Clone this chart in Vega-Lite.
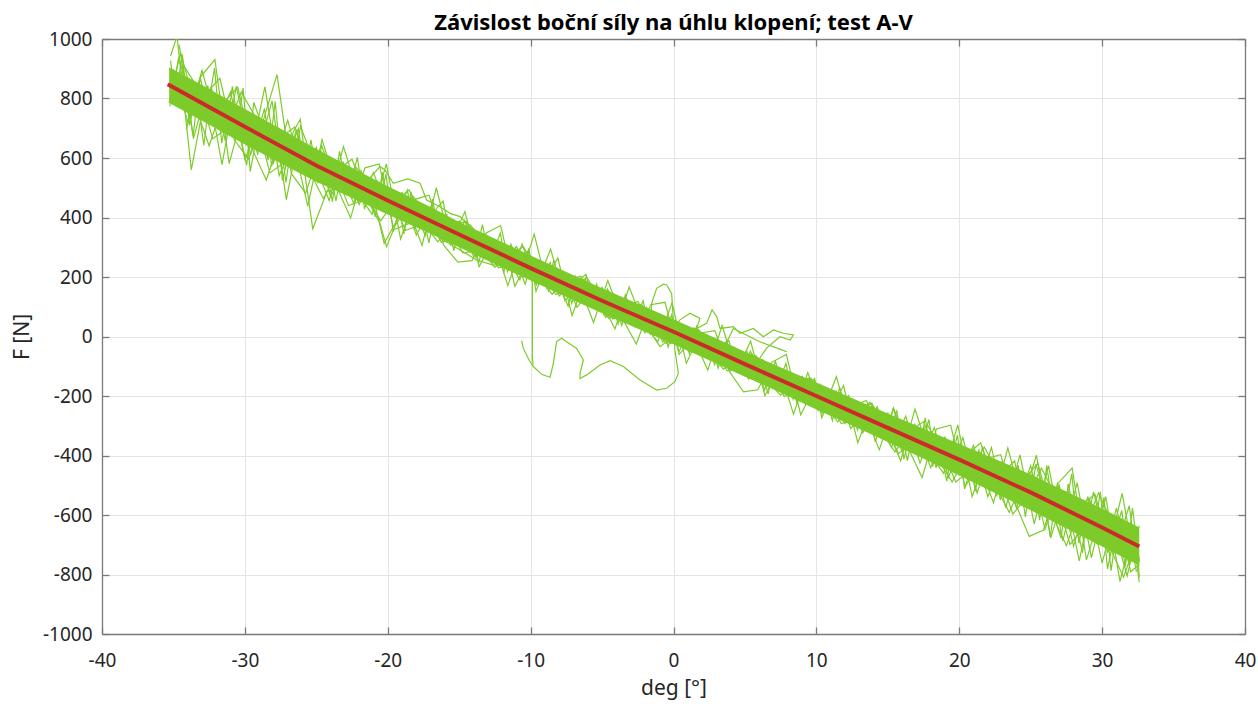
{
"$schema":"https://vega.github.io/schema/vega-lite/v6.json",
"width":1143,"height":595,
"autosize":{"type":"none"},
"padding":{"left":102,"top":39,"right":13,"bottom":70},
"background":"#ffffff",
"config":{"view":{"stroke":null},"font":"Noto Sans"},
"title":{"text":"Závislost boční síly na úhlu klopení; test A-V","fontSize":22,"fontWeight":"bold","color":"#000000","offset":-5,"anchor":"middle","font":"Noto Sans"},
"datasets":{
"band":[
{"x":-35.3,"lo":785,"hi":905},{"x":-33,"lo":725,"hi":845},{"x":-30,"lo":645,"hi":765},{"x":-27,"lo":570,"hi":685},{"x":-25,"lo":520,"hi":630},{"x":-22,"lo":455,"hi":555},{"x":-20,"lo":410,"hi":505},{"x":-17,"lo":345,"hi":435},{"x":-15,"lo":300,"hi":385},{"x":-12,"lo":232,"hi":318},{"x":-10,"lo":188,"hi":272},{"x":-7,"lo":122,"hi":206},{"x":-5,"lo":78,"hi":162},{"x":-2,"lo":16,"hi":100},{"x":0,"lo":-26,"hi":58},{"x":3,"lo":-91,"hi":-7},{"x":5,"lo":-135,"hi":-51},{"x":8,"lo":-200,"hi":-114},{"x":10,"lo":-245,"hi":-155},{"x":13,"lo":-310,"hi":-218},{"x":15,"lo":-355,"hi":-259},{"x":18,"lo":-422,"hi":-320},{"x":20,"lo":-467,"hi":-361},{"x":23,"lo":-538,"hi":-422},{"x":25,"lo":-584,"hi":-464},{"x":28,"lo":-657,"hi":-533},{"x":30,"lo":-706,"hi":-578},{"x":32.6,"lo":-770,"hi":-642}
],
"tr":[
{"s":"a","x":-35,"y":898},{"s":"a","x":-34,"y":721},{"s":"a","x":-33,"y":895},{"s":"a","x":-32,"y":718},{"s":"a","x":-31,"y":822},{"s":"a","x":-30,"y":595},{"s":"a","x":-29,"y":719},{"s":"a","x":-28,"y":583},{"s":"a","x":-27,"y":727},{"s":"a","x":-26,"y":551},{"s":"a","x":-25,"y":635},{"s":"a","x":-24,"y":471},{"s":"a","x":-23,"y":558},{"s":"a","x":-22,"y":444},{"s":"a","x":-21,"y":551},{"s":"a","x":-20,"y":417},{"s":"a","x":-19,"y":484},{"s":"a","x":-18,"y":341},{"s":"a","x":-17,"y":429},{"s":"a","x":-16,"y":336},{"s":"a","x":-15,"y":388},{"s":"a","x":-14,"y":270},{"s":"a","x":-13,"y":328},{"s":"a","x":-12,"y":235},{"s":"a","x":-11,"y":303},{"s":"a","x":-10,"y":205},{"s":"a","x":-9,"y":248},{"s":"a","x":-8,"y":136},{"s":"a","x":-7,"y":184},{"s":"a","x":-6,"y":102},{"s":"a","x":-5,"y":165},{"s":"a","x":-4,"y":69},{"s":"a","x":-3,"y":113},{"s":"a","x":-2,"y":13},{"s":"a","x":-1,"y":67},{"s":"a","x":0,"y":-19},{"s":"a","x":1,"y":34},{"s":"a","x":2,"y":-58},{"s":"a","x":3,"y":-24},{"s":"a","x":4,"y":-116},{"s":"a","x":5,"y":-58},{"s":"a","x":6,"y":-154},{"s":"a","x":7,"y":-106},{"s":"a","x":8,"y":-182},{"s":"a","x":9,"y":-134},{"s":"a","x":10,"y":-235},{"s":"a","x":11,"y":-191},{"s":"a","x":12,"y":-293},{"s":"a","x":13,"y":-229},{"s":"a","x":14,"y":-326},{"s":"a","x":15,"y":-257},{"s":"a","x":16,"y":-388},{"s":"a","x":17,"y":-305},{"s":"a","x":18,"y":-441},{"s":"a","x":19,"y":-338},{"s":"a","x":20,"y":-464},{"s":"a","x":21,"y":-366},{"s":"a","x":22,"y":-538},{"s":"a","x":23,"y":-420},{"s":"a","x":24,"y":-577},{"s":"a","x":25,"y":-434},{"s":"a","x":26,"y":-648},{"s":"a","x":27,"y":-501},{"s":"a","x":28,"y":-705},{"s":"a","x":29,"y":-538},{"s":"a","x":30,"y":-762},{"s":"a","x":31,"y":-577},{"s":"a","x":32,"y":-791},{"s":"a","x":32.6,"y":-766},
{"s":"b","x":-35.3,"y":785},{"s":"b","x":-34.5,"y":955},{"s":"b","x":-33.5,"y":778},{"s":"b","x":-32.5,"y":641},{"s":"b","x":-31.5,"y":785},{"s":"b","x":-30.5,"y":838},{"s":"b","x":-29.5,"y":632},{"s":"b","x":-28.5,"y":526},{"s":"b","x":-27.5,"y":670},{"s":"b","x":-26.5,"y":704},{"s":"b","x":-25.5,"y":558},{"s":"b","x":-24.5,"y":463},{"s":"b","x":-23.5,"y":560},{"s":"b","x":-22.5,"y":596},{"s":"b","x":-21.5,"y":473},{"s":"b","x":-20.5,"y":389},{"s":"b","x":-19.5,"y":456},{"s":"b","x":-18.5,"y":493},{"s":"b","x":-17.5,"y":380},{"s":"b","x":-16.5,"y":318},{"s":"b","x":-15.5,"y":375},{"s":"b","x":-14.5,"y":387},{"s":"b","x":-13.5,"y":294},{"s":"b","x":-12.5,"y":232},{"s":"b","x":-11.5,"y":274},{"s":"b","x":-10.5,"y":302},{"s":"b","x":-9.5,"y":209},{"s":"b","x":-8.5,"y":142},{"s":"b","x":-7.5,"y":190},{"s":"b","x":-6.5,"y":203},{"s":"b","x":-5.5,"y":111},{"s":"b","x":-4.5,"y":60},{"s":"b","x":-3.5,"y":99},{"s":"b","x":-2.5,"y":118},{"s":"b","x":-1.5,"y":38},{"s":"b","x":-0.5,"y":-23},{"s":"b","x":0.5,"y":20},{"s":"b","x":1.5,"y":28},{"s":"b","x":2.5,"y":-54},{"s":"b","x":3.5,"y":-110},{"s":"b","x":4.5,"y":-72},{"s":"b","x":5.5,"y":-59},{"s":"b","x":6.5,"y":-145},{"s":"b","x":7.5,"y":-197},{"s":"b","x":8.5,"y":-153},{"s":"b","x":9.5,"y":-140},{"s":"b","x":10.5,"y":-226},{"s":"b","x":11.5,"y":-287},{"s":"b","x":12.5,"y":-234},{"s":"b","x":13.5,"y":-215},{"s":"b","x":14.5,"y":-317},{"s":"b","x":15.5,"y":-388},{"s":"b","x":16.5,"y":-319},{"s":"b","x":17.5,"y":-286},{"s":"b","x":18.5,"y":-412},{"s":"b","x":19.5,"y":-489},{"s":"b","x":20.5,"y":-400},{"s":"b","x":21.5,"y":-357},{"s":"b","x":22.5,"y":-499},{"s":"b","x":23.5,"y":-591},{"s":"b","x":24.5,"y":-483},{"s":"b","x":25.5,"y":-426},{"s":"b","x":26.5,"y":-600},{"s":"b","x":27.5,"y":-703},{"s":"b","x":28.5,"y":-567},{"s":"b","x":29.5,"y":-530},{"s":"b","x":30.5,"y":-705},{"s":"b","x":31.5,"y":-809},{"s":"b","x":32.5,"y":-673},
{"s":"c","x":-35.2,"y":943},{"s":"c","x":-34.75,"y":1010},{"s":"c","x":-33.75,"y":560},{"s":"c","x":-32.75,"y":815},{"s":"c","x":-31.75,"y":868},{"s":"c","x":-30.75,"y":662},{"s":"c","x":-29.75,"y":596},{"s":"c","x":-28.75,"y":720},{"s":"c","x":-27.75,"y":880},{"s":"c","x":-26.75,"y":548},{"s":"c","x":-25.75,"y":482},{"s":"c","x":-24.75,"y":627},{"s":"c","x":-23.75,"y":564},{"s":"c","x":-22.75,"y":440},{"s":"c","x":-21.75,"y":457},{"s":"c","x":-20.75,"y":523},{"s":"c","x":-19.75,"y":460},{"s":"c","x":-18.75,"y":357},{"s":"c","x":-17.75,"y":374},{"s":"c","x":-16.75,"y":422},{"s":"c","x":-15.75,"y":364},{"s":"c","x":-14.75,"y":281},{"s":"c","x":-13.75,"y":288},{"s":"c","x":-12.75,"y":326},{"s":"c","x":-11.75,"y":273},{"s":"c","x":-10.75,"y":191},{"s":"c","x":-9.75,"y":344},{"s":"c","x":-8.75,"y":152},{"s":"c","x":-7.75,"y":205},{"s":"c","x":-6.75,"y":98},{"s":"c","x":-5.75,"y":161},{"s":"c","x":-4.75,"y":64},{"s":"c","x":-3.75,"y":123},{"s":"c","x":-2.75,"y":33},{"s":"c","x":-1.75,"y":87},{"s":"c","x":-0.75,"y":-19},{"s":"c","x":0.25,"y":46},{"s":"c","x":1.25,"y":-51},{"s":"c","x":2.25,"y":7},{"s":"c","x":3.25,"y":-84},{"s":"c","x":4.25,"y":-36},{"s":"c","x":5.25,"y":-143},{"s":"c","x":6.25,"y":-79},{"s":"c","x":7.25,"y":-181},{"s":"c","x":8.25,"y":-122},{"s":"c","x":9.25,"y":-229},{"s":"c","x":10.25,"y":-160},{"s":"c","x":11.25,"y":-266},{"s":"c","x":12.25,"y":-198},{"s":"c","x":13.25,"y":-324},{"s":"c","x":14.25,"y":-236},{"s":"c","x":15.25,"y":-372},{"s":"c","x":16.25,"y":-268},{"s":"c","x":17.25,"y":-425},{"s":"c","x":18.25,"y":-306},{"s":"c","x":19.25,"y":-473},{"s":"c","x":20.25,"y":-340},{"s":"c","x":21.25,"y":-526},{"s":"c","x":22.25,"y":-373},{"s":"c","x":23.25,"y":-575},{"s":"c","x":24.25,"y":-398},{"s":"c","x":25.25,"y":-630},{"s":"c","x":26.25,"y":-434},{"s":"c","x":27.25,"y":-687},{"s":"c","x":28.25,"y":-491},{"s":"c","x":29.25,"y":-744},{"s":"c","x":30.25,"y":-538},{"s":"c","x":31.25,"y":-823},{"s":"c","x":32.25,"y":-637},{"s":"c","x":32.6,"y":-756},
{"s":"d","x":-35.1,"y":800},{"s":"d","x":-34.25,"y":908},{"s":"d","x":-33.25,"y":832},{"s":"d","x":-32.25,"y":665},{"s":"d","x":-31.25,"y":699},{"s":"d","x":-30.25,"y":822},{"s":"d","x":-29.25,"y":736},{"s":"d","x":-28.25,"y":550},{"s":"d","x":-27.25,"y":584},{"s":"d","x":-26.25,"y":698},{"s":"d","x":-25.25,"y":362},{"s":"d","x":-24.25,"y":487},{"s":"d","x":-23.25,"y":504},{"s":"d","x":-22.25,"y":570},{"s":"d","x":-21.25,"y":517},{"s":"d","x":-20.25,"y":313},{"s":"d","x":-19.25,"y":400},{"s":"d","x":-18.25,"y":472},{"s":"d","x":-17.25,"y":414},{"s":"d","x":-16.25,"y":317},{"s":"d","x":-15.25,"y":329},{"s":"d","x":-14.25,"y":376},{"s":"d","x":-13.25,"y":318},{"s":"d","x":-12.25,"y":231},{"s":"d","x":-11.25,"y":243},{"s":"d","x":-10.25,"y":286},{"s":"d","x":-9.25,"y":224},{"s":"d","x":-8.25,"y":142},{"s":"d","x":-7.25,"y":155},{"s":"d","x":-6.25,"y":193},{"s":"d","x":-5.25,"y":136},{"s":"d","x":-4.25,"y":59},{"s":"d","x":-3.25,"y":73},{"s":"d","x":-2.25,"y":108},{"s":"d","x":-1.25,"y":52},{"s":"d","x":-0.25,"y":-24},{"s":"d","x":0.75,"y":-10},{"s":"d","x":1.75,"y":23},{"s":"d","x":2.75,"y":-34},{"s":"d","x":3.75,"y":-115},{"s":"d","x":4.75,"y":-97},{"s":"d","x":5.75,"y":-64},{"s":"d","x":6.75,"y":-120},{"s":"d","x":7.75,"y":-202},{"s":"d","x":8.75,"y":-183},{"s":"d","x":9.75,"y":-145},{"s":"d","x":10.75,"y":-206},{"s":"d","x":11.75,"y":-293},{"s":"d","x":12.75,"y":-269},{"s":"d","x":13.75,"y":-221},{"s":"d","x":14.75,"y":-292},{"s":"d","x":15.75,"y":-393},{"s":"d","x":16.75,"y":-360},{"s":"d","x":17.75,"y":-296},{"s":"d","x":18.75,"y":-373},{"s":"d","x":19.75,"y":-489},{"s":"d","x":20.75,"y":-451},{"s":"d","x":21.75,"y":-372},{"s":"d","x":22.75,"y":-455},{"s":"d","x":23.75,"y":-597},{"s":"d","x":24.75,"y":-539},{"s":"d","x":25.75,"y":-442},{"s":"d","x":26.75,"y":-535},{"s":"d","x":27.75,"y":-699},{"s":"d","x":28.75,"y":-642},{"s":"d","x":29.75,"y":-526},{"s":"d","x":30.75,"y":-631},{"s":"d","x":31.75,"y":-805},{"s":"d","x":32.6,"y":-636},
{"s":"e","x":-35.2,"y":927},{"s":"e","x":-34.875,"y":793},{"s":"e","x":-34.375,"y":948},{"s":"e","x":-33.875,"y":710},{"s":"e","x":-33.375,"y":823},{"s":"e","x":-32.875,"y":642},{"s":"e","x":-32.375,"y":839},{"s":"e","x":-31.875,"y":769},{"s":"e","x":-31.375,"y":658},{"s":"e","x":-30.875,"y":841},{"s":"e","x":-30.375,"y":688},{"s":"e","x":-29.875,"y":576},{"s":"e","x":-29.375,"y":787},{"s":"e","x":-28.875,"y":718},{"s":"e","x":-28.375,"y":593},{"s":"e","x":-27.875,"y":790},{"s":"e","x":-27.375,"y":525},{"s":"e","x":-26.875,"y":624},{"s":"e","x":-26.375,"y":695},{"s":"e","x":-25.875,"y":542},{"s":"e","x":-25.375,"y":661},{"s":"e","x":-24.875,"y":515},{"s":"e","x":-24.375,"y":589},{"s":"e","x":-23.875,"y":453},{"s":"e","x":-23.375,"y":622},{"s":"e","x":-22.875,"y":506},{"s":"e","x":-22.375,"y":446},{"s":"e","x":-21.875,"y":558},{"s":"e","x":-21.375,"y":499},{"s":"e","x":-20.875,"y":402},{"s":"e","x":-20.375,"y":552},{"s":"e","x":-19.875,"y":425},{"s":"e","x":-19.375,"y":480},{"s":"e","x":-18.875,"y":345},{"s":"e","x":-18.375,"y":486},{"s":"e","x":-17.875,"y":398},{"s":"e","x":-17.375,"y":339},{"s":"e","x":-16.875,"y":462},{"s":"e","x":-16.375,"y":336},{"s":"e","x":-15.875,"y":411},{"s":"e","x":-15.375,"y":289},{"s":"e","x":-14.875,"y":382},{"s":"e","x":-14.375,"y":336},{"s":"e","x":-13.875,"y":268},{"s":"e","x":-13.375,"y":376},{"s":"e","x":-12.875,"y":260},{"s":"e","x":-12.375,"y":305},{"s":"e","x":-11.875,"y":216},{"s":"e","x":-11.375,"y":310},{"s":"e","x":-10.875,"y":236},{"s":"e","x":-10.375,"y":176},{"s":"e","x":-9.875,"y":262},{"s":"e","x":-9.375,"y":230},{"s":"e","x":-8.875,"y":163},{"s":"e","x":-8.375,"y":257},{"s":"e","x":-7.875,"y":162},{"s":"e","x":-7.375,"y":102},{"s":"e","x":-6.875,"y":203},{"s":"e","x":-6.375,"y":157},{"s":"e","x":-5.875,"y":104},{"s":"e","x":-5.375,"y":176},{"s":"e","x":-4.875,"y":75},{"s":"e","x":-4.375,"y":125},{"s":"e","x":-3.875,"y":42},{"s":"e","x":-3.375,"y":140},{"s":"e","x":-2.875,"y":69},{"s":"e","x":-2.375,"y":29},{"s":"e","x":-1.875,"y":97},{"s":"e","x":-1.375,"y":21},{"s":"e","x":-0.875,"y":64},{"s":"e","x":-0.375,"y":-36},{"s":"e","x":0.125,"y":49},{"s":"e","x":0.625,"y":-10},{"s":"e","x":1.125,"y":-57},{"s":"e","x":1.625,"y":34},{"s":"e","x":2.125,"y":-49},{"s":"e","x":2.625,"y":-17},{"s":"e","x":3.125,"y":-106},{"s":"e","x":3.625,"y":-21},{"s":"e","x":4.125,"y":-74},{"s":"e","x":4.625,"y":-121},{"s":"e","x":5.125,"y":-48},{"s":"e","x":5.625,"y":-139},{"s":"e","x":6.125,"y":-104},{"s":"e","x":6.625,"y":-193},{"s":"e","x":7.125,"y":-80},{"s":"e","x":7.625,"y":-175},{"s":"e","x":8.125,"y":-121},{"s":"e","x":8.625,"y":-223},{"s":"e","x":9.125,"y":-162},{"s":"e","x":9.625,"y":-140},{"s":"e","x":10.125,"y":-249},{"s":"e","x":10.625,"y":-206},{"s":"e","x":11.125,"y":-283},{"s":"e","x":11.625,"y":-170},{"s":"e","x":12.125,"y":-266},{"s":"e","x":12.625,"y":-223},{"s":"e","x":13.125,"y":-306},{"s":"e","x":13.625,"y":-232},{"s":"e","x":14.125,"y":-354},{"s":"e","x":14.625,"y":-273},{"s":"e","x":15.125,"y":-323},{"s":"e","x":15.625,"y":-248},{"s":"e","x":16.125,"y":-412},{"s":"e","x":16.625,"y":-315},{"s":"e","x":17.125,"y":-398},{"s":"e","x":17.625,"y":-273},{"s":"e","x":18.125,"y":-437},{"s":"e","x":18.625,"y":-367},{"s":"e","x":19.125,"y":-486},{"s":"e","x":19.625,"y":-343},{"s":"e","x":20.125,"y":-444},{"s":"e","x":20.625,"y":-383},{"s":"e","x":21.125,"y":-520},{"s":"e","x":21.625,"y":-369},{"s":"e","x":22.125,"y":-479},{"s":"e","x":22.625,"y":-535},{"s":"e","x":23.125,"y":-429},{"s":"e","x":23.625,"y":-530},{"s":"e","x":24.125,"y":-433},{"s":"e","x":24.625,"y":-606},{"s":"e","x":25.125,"y":-462},{"s":"e","x":25.625,"y":-617},{"s":"e","x":26.125,"y":-434},{"s":"e","x":26.625,"y":-602},{"s":"e","x":27.125,"y":-678},{"s":"e","x":27.625,"y":-495},{"s":"e","x":28.125,"y":-611},{"s":"e","x":28.625,"y":-727},{"s":"e","x":29.125,"y":-543},{"s":"e","x":29.625,"y":-698},{"s":"e","x":30.125,"y":-541},{"s":"e","x":30.625,"y":-787},{"s":"e","x":31.125,"y":-618},{"s":"e","x":31.625,"y":-773},{"s":"e","x":32.125,"y":-577},{"s":"e","x":32.6,"y":-758},
{"s":"f","x":-35.25,"y":774},{"s":"f","x":-34.625,"y":940},{"s":"f","x":-34.125,"y":843},{"s":"f","x":-33.625,"y":675},{"s":"f","x":-33.125,"y":872},{"s":"f","x":-32.625,"y":761},{"s":"f","x":-32.125,"y":902},{"s":"f","x":-31.625,"y":650},{"s":"f","x":-31.125,"y":777},{"s":"f","x":-30.625,"y":666},{"s":"f","x":-30.125,"y":835},{"s":"f","x":-29.625,"y":555},{"s":"f","x":-29.125,"y":682},{"s":"f","x":-28.625,"y":767},{"s":"f","x":-28.125,"y":572},{"s":"f","x":-27.625,"y":699},{"s":"f","x":-27.125,"y":518},{"s":"f","x":-26.625,"y":687},{"s":"f","x":-26.125,"y":730},{"s":"f","x":-25.625,"y":549},{"s":"f","x":-25.125,"y":530},{"s":"f","x":-24.625,"y":642},{"s":"f","x":-24.125,"y":573},{"s":"f","x":-23.625,"y":456},{"s":"f","x":-23.125,"y":588},{"s":"f","x":-22.625,"y":509},{"s":"f","x":-22.125,"y":602},{"s":"f","x":-21.625,"y":428},{"s":"f","x":-21.125,"y":513},{"s":"f","x":-20.625,"y":434},{"s":"f","x":-20.125,"y":546},{"s":"f","x":-19.625,"y":353},{"s":"f","x":-19.125,"y":437},{"s":"f","x":-18.625,"y":492},{"s":"f","x":-18.125,"y":357},{"s":"f","x":-17.625,"y":440},{"s":"f","x":-17.125,"y":315},{"s":"f","x":-16.625,"y":428},{"s":"f","x":-16.125,"y":455},{"s":"f","x":-15.625,"y":328},{"s":"f","x":-15.125,"y":311},{"s":"f","x":-14.625,"y":390},{"s":"f","x":-14.125,"y":337},{"s":"f","x":-13.625,"y":249},{"s":"f","x":-13.125,"y":342},{"s":"f","x":-12.625,"y":282},{"s":"f","x":-12.125,"y":348},{"s":"f","x":-11.625,"y":218},{"s":"f","x":-11.125,"y":276},{"s":"f","x":-10.625,"y":216},{"s":"f","x":-10.125,"y":296},{"s":"f","x":-9.625,"y":152},{"s":"f","x":-9.125,"y":211},{"s":"f","x":-8.625,"y":249},{"s":"f","x":-8.125,"y":147},{"s":"f","x":-7.625,"y":206},{"s":"f","x":-7.125,"y":111},{"s":"f","x":-6.625,"y":191},{"s":"f","x":-6.125,"y":208},{"s":"f","x":-5.625,"y":113},{"s":"f","x":-5.125,"y":93},{"s":"f","x":-4.625,"y":160},{"s":"f","x":-4.125,"y":114},{"s":"f","x":-3.625,"y":37},{"s":"f","x":-3.125,"y":117},{"s":"f","x":-2.625,"y":64},{"s":"f","x":-2.125,"y":120},{"s":"f","x":-1.625,"y":8},{"s":"f","x":-1.125,"y":58},{"s":"f","x":-0.625,"y":5},{"s":"f","x":-0.125,"y":73},{"s":"f","x":0.375,"y":-52},{"s":"f","x":0.875,"y":-3},{"s":"f","x":1.375,"y":28},{"s":"f","x":1.875,"y":-61},{"s":"f","x":2.375,"y":-12},{"s":"f","x":2.875,"y":-95},{"s":"f","x":3.375,"y":-27},{"s":"f","x":3.875,"y":-14},{"s":"f","x":4.375,"y":-97},{"s":"f","x":4.875,"y":-120},{"s":"f","x":5.375,"y":-49},{"s":"f","x":5.875,"y":-99},{"s":"f","x":6.375,"y":-181},{"s":"f","x":6.875,"y":-94},{"s":"f","x":7.375,"y":-151},{"s":"f","x":7.875,"y":-90},{"s":"f","x":8.375,"y":-211},{"s":"f","x":8.875,"y":-156},{"s":"f","x":9.375,"y":-213},{"s":"f","x":9.875,"y":-139},{"s":"f","x":10.375,"y":-273},{"s":"f","x":10.875,"y":-219},{"s":"f","x":11.375,"y":-183},{"s":"f","x":11.875,"y":-279},{"s":"f","x":12.375,"y":-225},{"s":"f","x":12.875,"y":-314},{"s":"f","x":13.375,"y":-239},{"s":"f","x":13.875,"y":-224},{"s":"f","x":14.375,"y":-314},{"s":"f","x":14.875,"y":-338},{"s":"f","x":15.375,"y":-243},{"s":"f","x":15.875,"y":-308},{"s":"f","x":16.375,"y":-417},{"s":"f","x":16.875,"y":-293},{"s":"f","x":17.375,"y":-367},{"s":"f","x":17.875,"y":-279},{"s":"f","x":18.375,"y":-442},{"s":"f","x":18.875,"y":-363},{"s":"f","x":19.375,"y":-437},{"s":"f","x":19.875,"y":-331},{"s":"f","x":20.375,"y":-512},{"s":"f","x":20.875,"y":-433},{"s":"f","x":21.375,"y":-381},{"s":"f","x":21.875,"y":-509},{"s":"f","x":22.375,"y":-430},{"s":"f","x":22.875,"y":-549},{"s":"f","x":23.375,"y":-443},{"s":"f","x":23.875,"y":-418},{"s":"f","x":24.375,"y":-537},{"s":"f","x":24.875,"y":-566},{"s":"f","x":25.375,"y":-429},{"s":"f","x":25.875,"y":-519},{"s":"f","x":26.375,"y":-674},{"s":"f","x":26.875,"y":-491},{"s":"f","x":27.375,"y":-593},{"s":"f","x":27.875,"y":-462},{"s":"f","x":28.375,"y":-695},{"s":"f","x":28.875,"y":-577},{"s":"f","x":29.375,"y":-679},{"s":"f","x":29.875,"y":-522},{"s":"f","x":30.375,"y":-781},{"s":"f","x":30.875,"y":-664},{"s":"f","x":31.375,"y":-585},{"s":"f","x":31.875,"y":-767},{"s":"f","x":32.375,"y":-648},{"s":"f","x":32.6,"y":-810},
{"s":"g","x":-34.6,"y":981},{"s":"g","x":-33.6,"y":665},{"s":"g","x":-32.6,"y":843},{"s":"g","x":-31.6,"y":578},{"s":"g","x":-30.6,"y":841},{"s":"g","x":-29.6,"y":610},{"s":"g","x":-28.6,"y":839},{"s":"g","x":-27.6,"y":541},{"s":"g","x":-26.6,"y":651},{"s":"g","x":-25.6,"y":438},{"s":"g","x":-24.6,"y":662},{"s":"g","x":-23.6,"y":506},{"s":"g","x":-22.6,"y":399},{"s":"g","x":-21.6,"y":567},{"s":"g","x":-20.6,"y":580},{"s":"g","x":-19.6,"y":364},{"s":"g","x":-18.6,"y":437},{"s":"g","x":-17.6,"y":306},{"s":"g","x":-16.6,"y":500},{"s":"g","x":-15.6,"y":309},{"s":"g","x":-14.6,"y":420},{"s":"g","x":-13.6,"y":235},{"s":"g","x":-12.6,"y":327},{"s":"g","x":-11.6,"y":171},{"s":"g","x":-10.6,"y":311},{"s":"g","x":-9.6,"y":173},{"s":"g","x":-8.6,"y":294},{"s":"g","x":-7.6,"y":120},{"s":"g","x":-6.6,"y":174},{"s":"g","x":-5.6,"y":47},{"s":"g","x":-4.6,"y":188},{"s":"g","x":-3.6,"y":62},{"s":"g","x":-2.6,"y":-25},{"s":"g","x":-1.6,"y":107},{"s":"g","x":-0.6,"y":115},{"s":"g","x":0.4,"y":-60},{"s":"g","x":1.4,"y":-5},{"s":"g","x":2.4,"y":-113},{"s":"g","x":3.4,"y":37},{"s":"g","x":4.4,"y":-118},{"s":"g","x":5.4,"y":-16},{"s":"g","x":6.4,"y":-199},{"s":"g","x":7.4,"y":-107},{"s":"g","x":8.4,"y":-261},{"s":"g","x":9.4,"y":-121},{"s":"g","x":10.4,"y":-257},{"s":"g","x":11.4,"y":-135},{"s":"g","x":12.4,"y":-309},{"s":"g","x":13.4,"y":-254},{"s":"g","x":14.4,"y":-381},{"s":"g","x":15.4,"y":-240},{"s":"g","x":16.4,"y":-372},{"s":"g","x":17.4,"y":-474},{"s":"g","x":18.4,"y":-311},{"s":"g","x":19.4,"y":-298},{"s":"g","x":20.4,"y":-504},{"s":"g","x":21.4,"y":-433},{"s":"g","x":22.4,"y":-559},{"s":"g","x":23.4,"y":-374},{"s":"g","x":24.4,"y":-557},{"s":"g","x":25.4,"y":-399},{"s":"g","x":26.4,"y":-677},{"s":"g","x":27.4,"y":-520},{"s":"g","x":28.4,"y":-754},{"s":"g","x":29.4,"y":-522},{"s":"g","x":30.4,"y":-727},{"s":"g","x":31.4,"y":-527},{"s":"g","x":32.4,"y":-791},
{"s":"h","x":-34.1,"y":696},{"s":"h","x":-33.1,"y":873},{"s":"h","x":-32.1,"y":931},{"s":"h","x":-31.1,"y":581},{"s":"h","x":-30.1,"y":759},{"s":"h","x":-29.1,"y":614},{"s":"h","x":-28.1,"y":792},{"s":"h","x":-27.1,"y":460},{"s":"h","x":-26.1,"y":706},{"s":"h","x":-25.1,"y":578},{"s":"h","x":-24.1,"y":457},{"s":"h","x":-23.1,"y":638},{"s":"h","x":-22.1,"y":483},{"s":"h","x":-21.1,"y":411},{"s":"h","x":-20.1,"y":580},{"s":"h","x":-19.1,"y":328},{"s":"h","x":-18.1,"y":461},{"s":"h","x":-17.1,"y":475},{"s":"h","x":-16.1,"y":308},{"s":"h","x":-15.1,"y":250},{"s":"h","x":-14.1,"y":255},{"s":"h","x":-13.1,"y":348},{"s":"h","x":-12.1,"y":373},{"s":"h","x":-11.1,"y":169},{"s":"h","x":-10.1,"y":262},{"s":"h","x":-9.1,"y":172},{"s":"h","x":-8.1,"y":264},{"s":"h","x":-7.1,"y":71},{"s":"h","x":-6.1,"y":201},{"s":"h","x":-5.1,"y":122},{"s":"h","x":-4.1,"y":25},{"s":"h","x":-3.1,"y":166},{"s":"h","x":-2.1,"y":41},{"s":"h","x":-1.1,"y":-18},{"s":"h","x":-0.1,"y":113},{"s":"h","x":0.9,"y":-90},{"s":"h","x":1.9,"y":12},{"s":"h","x":2.9,"y":20},{"s":"h","x":3.9,"y":-117},{"s":"h","x":4.9,"y":-186},{"s":"h","x":5.9,"y":-179},{"s":"h","x":6.9,"y":-86},{"s":"h","x":7.9,"y":-60},{"s":"h","x":8.9,"y":-263},{"s":"h","x":9.9,"y":-169},{"s":"h","x":10.9,"y":-257},{"s":"h","x":11.9,"y":-165},{"s":"h","x":12.9,"y":-357},{"s":"h","x":13.9,"y":-227},{"s":"h","x":14.9,"y":-305},{"s":"h","x":15.9,"y":-418},{"s":"h","x":16.9,"y":-244},{"s":"h","x":17.9,"y":-392},{"s":"h","x":18.9,"y":-460},{"s":"h","x":19.9,"y":-297},{"s":"h","x":20.9,"y":-538},{"s":"h","x":21.9,"y":-410},{"s":"h","x":22.9,"y":-397},{"s":"h","x":23.9,"y":-558},{"s":"h","x":24.9,"y":-672},{"s":"h","x":25.9,"y":-651},{"s":"h","x":26.9,"y":-494},{"s":"h","x":27.9,"y":-442},{"s":"h","x":28.9,"y":-751},{"s":"h","x":29.9,"y":-594},{"s":"h","x":30.9,"y":-724},{"s":"h","x":31.9,"y":-569},{"s":"h","x":32.6,"y":-826}
],
"out":[
{"s":"o1","x":-10.63,"y":-14},{"s":"o1","x":-10.51,"y":-40},{"s":"o1","x":-10.1,"y":-80},{"s":"o1","x":-9.81,"y":-101},{"s":"o1","x":-9.2,"y":-128},{"s":"o1","x":-8.64,"y":-137},{"s":"o1","x":-8.41,"y":-90},{"s":"o1","x":-8.18,"y":-17},{"s":"o1","x":-7.83,"y":-6},{"s":"o1","x":-7.59,"y":-14},{"s":"o1","x":-6.78,"y":-40},{"s":"o1","x":-6.31,"y":-79},{"s":"o1","x":-6.54,"y":-124},{"s":"o1","x":-6.54,"y":-141},{"s":"o1","x":-6.08,"y":-129},{"s":"o1","x":-5.14,"y":-96},{"s":"o1","x":-4.44,"y":-81},{"s":"o1","x":-3.51,"y":-101},{"s":"o1","x":-2.34,"y":-146},{"s":"o1","x":-1.18,"y":-180},{"s":"o1","x":-0.48,"y":-174},{"s":"o1","x":0.1,"y":-152},{"s":"o1","x":0.34,"y":-124},{"s":"o1","x":0.1,"y":-45},{"s":"o1","x":-0.01,"y":55},{"s":"o1","x":-0.13,"y":145},{"s":"o1","x":-0.48,"y":173},{"s":"o1","x":-0.71,"y":176},{"s":"o1","x":-1.18,"y":162},{"s":"o1","x":-1.53,"y":111},{"s":"o1","x":-1.6,"y":44},{"s":"o1","x":-1.41,"y":0},{"s":"o1","x":-0.94,"y":-34},{"s":"o1","x":-0.3,"y":-10},{"s":"o1","x":0.5,"y":10},
{"s":"o2","x":-10.3,"y":245},{"s":"o2","x":-9.95,"y":205},{"s":"o2","x":-9.88,"y":179},{"s":"o2","x":-9.88,"y":50},{"s":"o2","x":-9.88,"y":-75},{"s":"o2","x":-9.82,"y":-95},
{"s":"o3","x":-21.5,"y":520},{"s":"o3","x":-20.54,"y":571},{"s":"o3","x":-20.2,"y":560},{"s":"o3","x":-19.61,"y":515},{"s":"o3","x":-18.6,"y":530},{"s":"o3","x":-17.74,"y":515},{"s":"o3","x":-17.28,"y":459},{"s":"o3","x":-16.34,"y":436},{"s":"o3","x":-15.64,"y":414},{"s":"o3","x":-14.94,"y":403},{"s":"o3","x":-14.24,"y":369},{"s":"o3","x":-13.5,"y":330},
{"s":"o4","x":-21.2,"y":440},{"s":"o4","x":-20.54,"y":380},{"s":"o4","x":-20.08,"y":302},{"s":"o4","x":-19.61,"y":358},{"s":"o4","x":-18.5,"y":380},{"s":"o4","x":-17.28,"y":369},{"s":"o4","x":-16.11,"y":324},{"s":"o4","x":-14.94,"y":291},{"s":"o4","x":-13.78,"y":257},{"s":"o4","x":-12.61,"y":240},{"s":"o4","x":-11.44,"y":246},{"s":"o4","x":-10.5,"y":235},
{"s":"o5","x":0.2,"y":40},{"s":"o5","x":0.45,"y":56},{"s":"o5","x":1.16,"y":78},{"s":"o5","x":1.85,"y":61},{"s":"o5","x":1.62,"y":27},{"s":"o5","x":2.32,"y":44},{"s":"o5","x":2.7,"y":90},{"s":"o5","x":3.02,"y":67},{"s":"o5","x":3.26,"y":27},{"s":"o5","x":4.19,"y":33},{"s":"o5","x":4.65,"y":11},{"s":"o5","x":5.59,"y":27},{"s":"o5","x":6.29,"y":-1},{"s":"o5","x":6.99,"y":22},{"s":"o5","x":7.69,"y":11},{"s":"o5","x":8.39,"y":5},{"s":"o5","x":8.16,"y":-12},{"s":"o5","x":7.45,"y":-1},{"s":"o5","x":6.5,"y":-40},{"s":"o5","x":5.8,"y":-90},
{"s":"o6","x":3.5,"y":-40},{"s":"o6","x":4.19,"y":27},{"s":"o6","x":6.0,"y":-17},{"s":"o6","x":7.92,"y":-51}
],
"fit":[
{"x":-35.4,"y":848},{"x":-30,"y":705},{"x":-25,"y":575},{"x":-20,"y":457},{"x":-15,"y":343},{"x":-10,"y":230},{"x":-5,"y":120},{"x":0,"y":16},{"x":5,"y":-93},{"x":10,"y":-200},{"x":15,"y":-307},{"x":20,"y":-414},{"x":25,"y":-524},{"x":30,"y":-642},{"x":32.6,"y":-706}
]
},
"layer":[
{"data":{"name":"band"},
 "mark":{"type":"area","color":"#7dcb2a","opacity":1,"clip":true},
 "encoding":{
  "x":{"field":"x","type":"quantitative","scale":{"domain":[-40,40],"nice":false,"zero":false},
   "axis":{"orient":"bottom","values":[-40,-30,-20,-10,0,10,20,30,40],"labelExpr":"toString(datum.value)","grid":true,"gridColor":"#e4e4e4","gridWidth":1,"domainColor":"#7a7a7a","domainWidth":1.3,"tickColor":"#7a7a7a","tickWidth":1.3,"tickSize":-7,"labelPadding":24,"labelFontSize":19,"labelColor":"#262626","labelFlush":false,"title":"deg [°]","titleFontSize":21,"titleFontWeight":"normal","titleColor":"#262626","titlePadding":7}},
  "y":{"field":"lo","type":"quantitative","scale":{"domain":[-1000,1000],"nice":false,"zero":false},
   "axis":{"orient":"left","values":[-1000,-800,-600,-400,-200,0,200,400,600,800,1000],"labelExpr":"toString(datum.value)","grid":true,"gridColor":"#e4e4e4","gridWidth":1,"domainColor":"#7a7a7a","domainWidth":1.3,"tickColor":"#7a7a7a","tickWidth":1.3,"tickSize":-7,"labelPadding":17,"labelFontSize":19,"labelColor":"#262626","labelFlush":false,"title":"F [N]","titleFontSize":21,"titleFontWeight":"normal","titleColor":"#262626","titlePadding":10}},
  "y2":{"field":"hi"}
 }},
{"data":{"name":"tr"},
 "mark":{"type":"line","color":"#7dcb2a","strokeWidth":1.2,"clip":true},
 "encoding":{
  "x":{"field":"x","type":"quantitative","axis":{"orient":"top","values":[-40,-30,-20,-10,0,10,20,30,40],"grid":false,"labels":false,"title":null,"domainColor":"#7a7a7a","domainWidth":1.3,"tickColor":"#7a7a7a","tickWidth":1.3,"tickSize":-7}},
  "y":{"field":"y","type":"quantitative","axis":{"orient":"right","values":[-1000,-800,-600,-400,-200,0,200,400,600,800,1000],"grid":false,"labels":false,"title":null,"domainColor":"#7a7a7a","domainWidth":1.3,"tickColor":"#7a7a7a","tickWidth":1.3,"tickSize":-7}},
  "detail":{"field":"s"}
 }},
{"data":{"name":"out"},
 "mark":{"type":"line","color":"#7dcb2a","strokeWidth":1.2,"clip":true},
 "encoding":{
  "x":{"field":"x","type":"quantitative","axis":null},
  "y":{"field":"y","type":"quantitative","axis":null},
  "detail":{"field":"s"},
  "order":{"value":null}
 }},
{"data":{"name":"fit"},
 "mark":{"type":"line","color":"#cd2a2a","strokeWidth":4,"clip":true},
 "encoding":{
  "x":{"field":"x","type":"quantitative","axis":null},
  "y":{"field":"y","type":"quantitative","axis":null}
 }}
],
"resolve":{"axis":{"x":"independent","y":"independent"}}
}
